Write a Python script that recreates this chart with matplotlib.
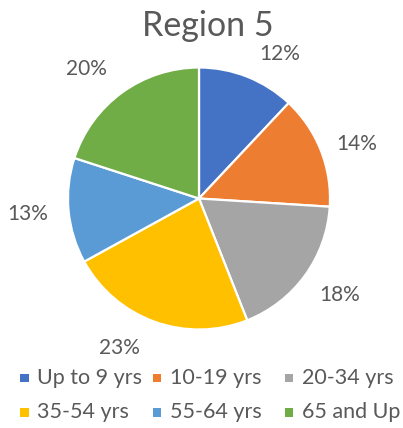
import numpy as np
import matplotlib
matplotlib.use("Agg")
import matplotlib.pyplot as plt
from matplotlib.patches import Rectangle

# Age distribution for Region 5
categories = ["Up to 9 yrs", "10-19 yrs", "20-34 yrs", "35-54 yrs", "55-64 yrs", "65 and Up"]
shares = [12, 14, 18, 23, 13, 20]
colors = ["#4472C4", "#ED7D31", "#A5A5A5", "#FFC000", "#5B9BD5", "#70AD47"]
title = "Region 5"

# label placement tweaks (angle shift in degrees, radial distance in radii)
label_shift = [7.3, 2.2, -1.8, 8.3, 0.6, -4.9]
label_dist = [1.269, 1.276, 1.294, 1.285, 1.314, 1.318]

FONT = "Lato"
TXT = "#595959"
PCT_SIZE = 15
LEG_SIZE = 15.5

W, H = 403, 428
fig = plt.figure(figsize=(W / 100, H / 100), dpi=100)

cx, cy, r = 199, 198.5, 131
ax = fig.add_axes([(cx - r) / W, (H - cy - r) / H, 2 * r / W, 2 * r / H])
ax.pie(shares, colors=colors, startangle=90, counterclock=False,
       wedgeprops=dict(edgecolor="white", linewidth=1.6), radius=1.0)
ax.set_xlim(-1, 1)
ax.set_ylim(-1, 1)
ax.set_aspect("equal")
ax.axis("off")

# half the digit height, in axes units, so labels sit centred on their anchor
cap_half = 0.5 * 0.717 * PCT_SIZE * 100 / 72 / r

total = sum(shares)
cum = 0
for v, sh, d in zip(shares, label_shift, label_dist):
    mid = (cum + v / 2) / total * 360 + sh
    cum += v
    th = np.deg2rad(mid)
    ax.text(d * np.sin(th), d * np.cos(th) - cap_half, f"{v / total * 100:.0f}%",
            ha="center", va="baseline", fontsize=PCT_SIZE, color=TXT,
            family=FONT, clip_on=False)

fig.text(207.5 / W, 1 - 36.5 / H, title, ha="center", va="baseline",
         fontsize=24.5, color=TXT, family=FONT)

# legend laid out on an even grid, three entries per row
col_x = [37, 169.5, 301.5]
row_y = [384, 418.5]
for i, (name, c) in enumerate(zip(categories, colors)):
    x = col_x[i % 3]
    y = row_y[i // 3]
    fig.patches.append(Rectangle(((x - 17) / W, (H - y + 2) / H), 8.5 / W, 8.5 / H,
                                 transform=fig.transFigure, facecolor=c,
                                 edgecolor="none"))
    fig.text(x / W, (H - y) / H, name, ha="left", va="baseline",
             fontsize=LEG_SIZE, color=TXT, family=FONT)

fig.savefig("out.png", dpi=100, facecolor="white")
